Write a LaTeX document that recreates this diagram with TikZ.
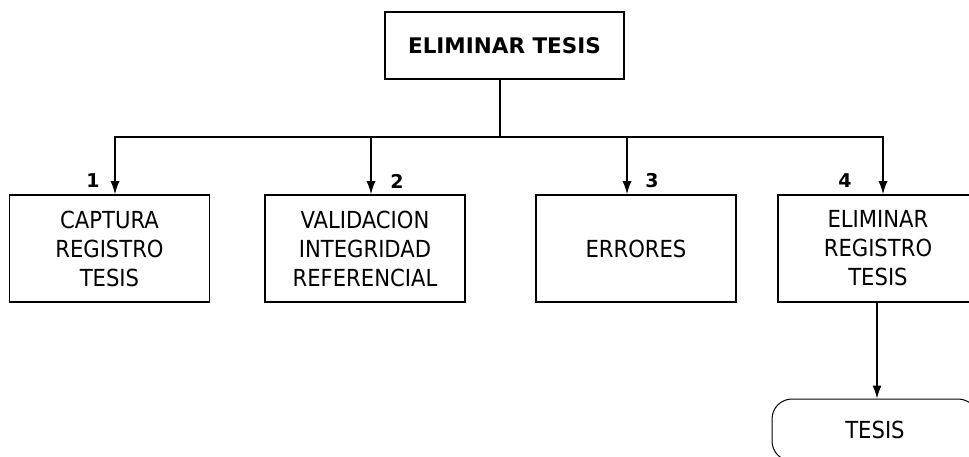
\documentclass[tikz,border=0pt]{standalone}
\usepackage{fontspec}
\setmainfont{DejaVu Sans Condensed}
\newfontfamily\wideb{DejaVu Sans}
\usetikzlibrary{arrows.meta}
\tikzset{
  box/.style={draw, line width=1.7pt, minimum width=200pt, minimum height=107pt, align=center, inner sep=0pt,
    font=\fontsize{23.5}{29}\selectfont},
  arr/.style={line width=1.2pt, -{Latex[length=13pt,width=9pt]}},
  con/.style={line width=1.2pt},
  num/.style={font=\wideb\fontsize{19}{20}\selectfont\bfseries, inner sep=0pt}
}
\begin{document}
\begin{tikzpicture}[x=1pt,y=-1pt]
\useasboundingbox (0,0) rectangle (969,457);
\clip (0,0) rectangle (969,457);
\node[box, minimum width=239pt, minimum height=67pt, font=\wideb\fontsize{21.5}{24}\selectfont\bfseries] (top) at (504.5,45.5) {ELIMINAR TESIS};
\node[box] (b1) at (109.5,248.5) {CAPTURA\\REGISTRO\\TESIS};
\node[box] (b2) at (365,248.5) {VALIDACION\\INTEGRIDAD\\REFERENCIAL};
\node[box] (b3) at (636,248.5) {ERRORES};
\node[box] (b4) at (878,248.5) {ELIMINAR\\REGISTRO\\TESIS};
\node[draw, line width=1pt, rounded corners=20pt, minimum width=206pt, minimum height=62pt, inner sep=0pt,
  font=\fontsize{23.5}{29}\selectfont] (t) at (875,430) {TESIS};
\coordinate (j) at (500,137);
\draw[con] (top.south -| j) -- (j);
\draw[arr] (j) -| ([xshift=5.5pt]b1.north);
\draw[arr] (j) -| ([xshift=6pt]b2.north);
\draw[arr] (j) -| ([xshift=-9pt]b3.north);
\draw[arr] (j) -| ([xshift=5pt]b4.north);
\draw[arr] ([xshift=-1pt]b4.south) -- ([xshift=-1pt]b4.south |- t.north);
\node[num] (n1) at (93,181) {1};
\node[num] (n2) at (397,181) {2};
\node[num] (n3) at (652,181) {3};
\node[num] (n4) at (845,181) {4};
\end{tikzpicture}
\end{document}
